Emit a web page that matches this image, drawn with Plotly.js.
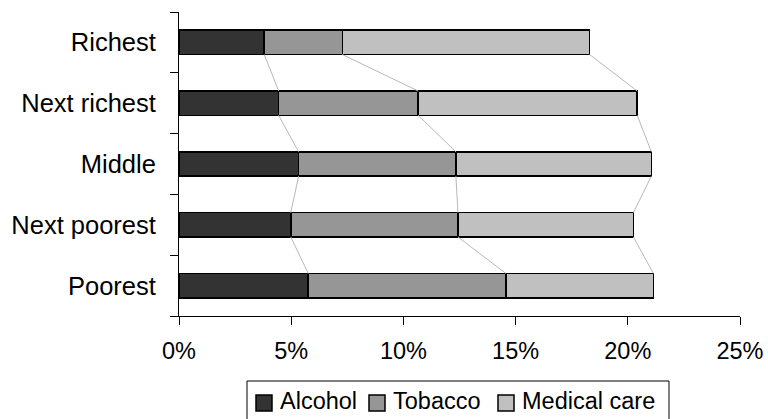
<!DOCTYPE html>
<html>
<head>
<meta charset="utf-8">
<script src="https://cdn.plot.ly/plotly-3.0.1.min.js"></script>
<style>html,body{margin:0;padding:0;background:#fff;}#chart{width:768px;height:419px;}</style>
</head>
<body>
<div id="chart"></div>
<script>
// Categories from bottom to top
var categories = ["Poorest", "Next poorest", "Middle", "Next richest", "Richest"];
var alcohol  = [5.76, 4.98, 5.33, 4.44, 3.80];
var tobacco  = [8.81, 7.45, 7.01, 6.22, 3.48];
var medical  = [6.57, 7.82, 8.71, 9.76, 11.02];
var seriesNames = ["Alcohol", "Tobacco", "Medical care"];
var seriesColors = ["#333333", "#969696", "#c0c0c0"];
var xTickVals = [0, 5, 10, 15, 20, 25];
var xTickText = ["0%", "5%", "10%", "15%", "20%", "25%"];

var W = 768, H = 419;
var M = {l: 179, r: 28, t: 12, b: 103};
var PW = W - M.l - M.r, PH = H - M.t - M.b;
function px(x) { return (x - M.l) / PW; }
function py(y) { return (H - M.b - y) / PH; }

var series = [alcohol, tobacco, medical];
var traces = [];
series.forEach(function (vals, k) {
  traces.push({
    type: "bar", orientation: "h", name: seriesNames[k],
    y: categories, x: vals, width: 0.4,
    marker: {color: seriesColors[k], line: {color: "#000", width: 1.6}},
    hoverinfo: "skip", showlegend: false
  });
});

// series lines connecting segment ends between adjacent bars
var half = 0.2;
var cum = [];
for (var k = 0; k < series.length; k++) {
  cum.push(categories.map(function (_, i) {
    var s = 0; for (var j = 0; j <= k; j++) s += series[j][i]; return s;
  }));
}
cum.forEach(function (c) {
  for (var i = 0; i < categories.length - 1; i++) {
    traces.push({
      type: "scatter", mode: "lines", yaxis: "y2", showlegend: false,
      x: [c[i], c[i + 1]], y: [i + half, i + 1 - half],
      line: {color: "#b8b8b8", width: 1}, hoverinfo: "skip"
    });
  }
});

var font = {family: "Liberation Sans, Arial, sans-serif", size: 23.5, color: "#000"};
var yFont = {family: "Liberation Sans, Arial, sans-serif", size: 25.5, color: "#000"};

// manual legend (box, swatches, labels)
var shapes = [{
  type: "rect", xref: "paper", yref: "paper",
  x0: px(247), x1: px(669), y0: py(425), y1: py(381),
  line: {color: "#000", width: 1}, fillcolor: "rgba(0,0,0,0)"
}];
var annotations = [];
var swX = [256, 369, 498];
seriesNames.forEach(function (name, k) {
  shapes.push({
    type: "rect", xref: "paper", yref: "paper",
    x0: px(swX[k]), x1: px(swX[k] + 16), y0: py(411), y1: py(395),
    line: {color: "#000", width: 1.5}, fillcolor: seriesColors[k]
  });
  annotations.push({
    xref: "paper", yref: "paper", x: px(swX[k] + 22), y: py(401),
    xanchor: "left", yanchor: "middle", text: name, showarrow: false, font: font
  });
});

var layout = {
  width: W, height: H,
  margin: {l: M.l, r: M.r, t: M.t, b: M.b, autoexpand: false},
  paper_bgcolor: "#fff", plot_bgcolor: "#fff",
  barmode: "stack", showlegend: false, font: font,
  xaxis: {
    range: [0, 25], tickvals: xTickVals, ticktext: xTickText,
    showgrid: false, zeroline: false, showline: true, linecolor: "#000", linewidth: 1,
    ticks: "outside", ticklen: 8, tickcolor: "#000", tickfont: font,
    ticklabelstandoff: 6, fixedrange: true
  },
  yaxis: {
    type: "category", categoryarray: categories, range: [-0.5, 4.5],
    tickson: "boundaries", ticks: "outside", ticklen: 8, tickcolor: "#000",
    showgrid: false, zeroline: false, showline: true, linecolor: "#000", linewidth: 1,
    tickfont: yFont, ticklabelstandoff: 17, fixedrange: true
  },
  yaxis2: {
    overlaying: "y", range: [-0.5, 4.5], visible: false, fixedrange: true
  },
  shapes: shapes,
  annotations: annotations
};
Plotly.newPlot("chart", traces, layout, {displayModeBar: false, staticPlot: true});
</script>
</body>
</html>
